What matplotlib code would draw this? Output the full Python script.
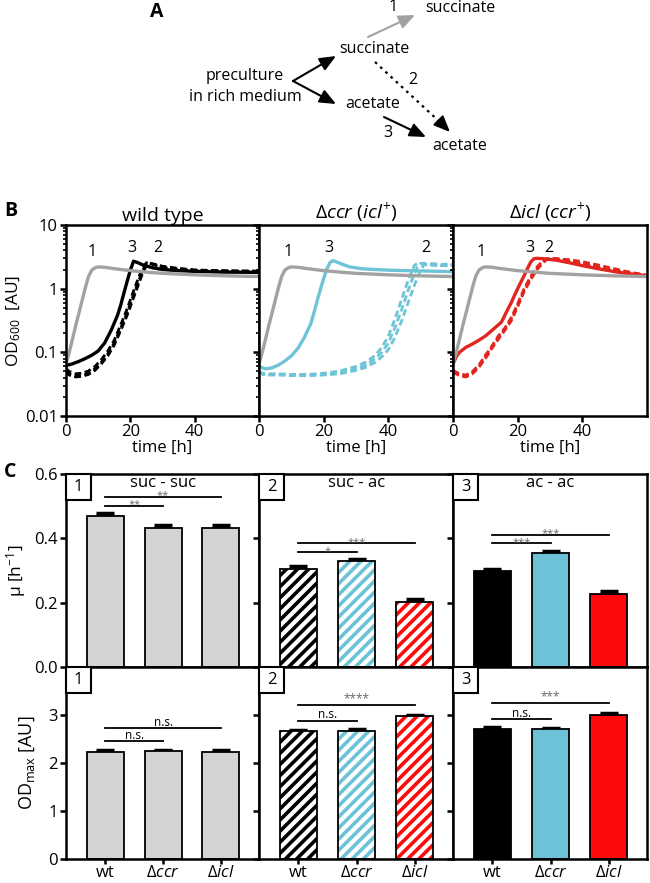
import matplotlib
matplotlib.use('Agg')
import matplotlib.pyplot as plt
from matplotlib.patches import Rectangle
from matplotlib.ticker import LogLocator, NullFormatter

plt.rcParams['font.family'] = ['Open Sans', 'DejaVu Sans']
plt.rcParams['mathtext.fontset'] = 'custom'
plt.rcParams['mathtext.rm'] = 'Open Sans'
plt.rcParams['mathtext.it'] = 'Open Sans:italic'
plt.rcParams['hatch.linewidth'] = 2.6

# ---- panel B: growth curves (time [h], OD600) ----
t_suc = [0, 1, 2, 3, 4, 5, 6, 7, 8, 9, 10, 12, 15, 20, 25, 30, 40, 50, 60]
od_suc_suc = [0.065, 0.1, 0.16, 0.26, 0.41, 0.65, 1.03, 1.55, 1.95, 2.12, 2.2, 2.17,
              2.06, 1.92, 1.82, 1.74, 1.65, 1.59, 1.55]

t_wt_ac = [0, 2, 4, 6, 8, 10, 12, 14, 16, 17, 18, 19, 20, 21, 22, 24, 27, 30, 35, 40, 50, 60]
od_wt_ac = [0.062, 0.066, 0.072, 0.08, 0.09, 0.105, 0.14, 0.22, 0.38, 0.55, 0.85, 1.3,
            1.95, 2.7, 2.6, 2.35, 2.12, 2.0, 1.92, 1.87, 1.82, 1.8]

t_wt_sa = [0, 1, 3, 5, 7, 9, 11, 13, 15, 17, 19, 21, 23, 24, 25, 26, 28, 30, 35, 40, 50, 60]
od_wt_sa_1 = [0.052, 0.046, 0.042, 0.043, 0.047, 0.055, 0.07, 0.095, 0.14, 0.24, 0.42, 0.8,
              1.5, 2.0, 2.45, 2.5, 2.35, 2.2, 2.05, 1.95, 1.9, 1.88]
od_wt_sa_2 = [0.056, 0.05, 0.046, 0.047, 0.051, 0.06, 0.077, 0.105, 0.155, 0.27, 0.48, 0.92,
              1.7, 2.2, 2.55, 2.5, 2.3, 2.15, 2.0, 1.92, 1.88, 1.86]
od_wt_sa_3 = [0.05, 0.044, 0.041, 0.042, 0.045, 0.052, 0.066, 0.088, 0.13, 0.22, 0.38, 0.72,
              1.35, 1.85, 2.3, 2.5, 2.4, 2.25, 2.08, 1.97, 1.9, 1.88]

t_ccr_ac = [0, 2, 4, 6, 8, 10, 12, 14, 16, 17, 18, 19, 20, 21, 22, 23, 25, 28, 32, 40, 50, 60]
od_ccr_ac = [0.06, 0.055, 0.057, 0.063, 0.073, 0.088, 0.115, 0.17, 0.28, 0.42, 0.65, 0.98,
             1.45, 2.05, 2.6, 2.75, 2.5, 2.2, 2.05, 1.95, 1.9, 1.85]

t_ccr_sa = [0, 1, 3, 6, 10, 15, 20, 25, 30, 33, 36, 38, 40, 42, 44, 46, 48, 49, 50, 51, 53, 56, 60]
od_ccr_sa_1 = [0.05, 0.046, 0.045, 0.045, 0.044, 0.044, 0.045, 0.048, 0.055, 0.063, 0.08, 0.1,
               0.14, 0.24, 0.45, 0.9, 1.7, 2.2, 2.5, 2.5, 2.4, 2.3, 2.35]
od_ccr_sa_2 = [0.05, 0.047, 0.046, 0.046, 0.045, 0.045, 0.047, 0.051, 0.06, 0.07, 0.09, 0.12,
               0.18, 0.33, 0.65, 1.3, 2.3, 2.5, 2.45, 2.4, 2.35, 2.3, 2.3]
od_ccr_sa_3 = [0.049, 0.045, 0.044, 0.044, 0.043, 0.043, 0.044, 0.046, 0.052, 0.058, 0.07, 0.085,
               0.11, 0.17, 0.3, 0.58, 1.1, 1.5, 1.95, 2.35, 2.5, 2.4, 2.45]

t_icl_ac = [0, 1, 2, 4, 6, 8, 10, 12, 14, 15, 16, 17, 18, 19, 20, 21, 22, 23, 24, 25, 26, 28,
            32, 36, 40, 45, 50, 55, 60]
od_icl_ac = [0.065, 0.085, 0.1, 0.12, 0.135, 0.155, 0.18, 0.22, 0.27, 0.3, 0.38, 0.48, 0.6,
             0.78, 1.0, 1.27, 1.6, 2.05, 2.6, 2.95, 3.0, 2.95, 2.8, 2.55, 2.3, 2.05, 1.85, 1.7, 1.6]

t_icl_sa = [0, 2, 4, 6, 8, 10, 11, 12, 14, 16, 18, 20, 22, 24, 26, 28, 29, 30, 33, 36, 40, 45,
            50, 55, 60]
od_icl_sa_1 = [0.05, 0.044, 0.042, 0.048, 0.06, 0.085, 0.1, 0.12, 0.17, 0.23, 0.33, 0.55, 0.95,
               1.45, 2.1, 2.7, 2.95, 3.0, 2.95, 2.8, 2.55, 2.25, 2.0, 1.78, 1.62]
od_icl_sa_2 = [0.052, 0.046, 0.044, 0.05, 0.063, 0.09, 0.105, 0.125, 0.18, 0.24, 0.35, 0.58, 1.0,
               1.55, 2.2, 2.8, 2.95, 2.95, 2.85, 2.7, 2.45, 2.15, 1.92, 1.75, 1.6]
od_icl_sa_3 = [0.049, 0.043, 0.041, 0.046, 0.058, 0.08, 0.095, 0.115, 0.16, 0.22, 0.31, 0.52, 0.9,
               1.38, 2.0, 2.6, 2.85, 2.95, 2.9, 2.85, 2.65, 2.35, 2.05, 1.8, 1.62]

strain_titles = ['wild type', 'Δ$\\mathit{ccr}$ ($\\mathit{icl}^{+}$)',
                 'Δ$\\mathit{icl}$ ($\\mathit{ccr}^{+}$)']
# curve-number labels (time, OD) for conditions 1, 3, 2
curve_label_pos = [[(8.1, 3.8), (20.6, 4.4), (28.4, 4.4)],
                   [(9.1, 3.8), (21.5, 4.4), (51.7, 4.4)],
                   [(8.8, 3.7), (23.7, 4.4), (29.6, 4.4)]]

# ---- panel C: growth rates and max OD ----
strains = ['wt', 'Δ$\\mathit{ccr}$', 'Δ$\\mathit{icl}$']
conditions = ['suc - suc', 'suc - ac', 'ac - ac']
mu = [[0.470, 0.432, 0.432], [0.305, 0.331, 0.203], [0.300, 0.355, 0.227]]
mu_err = [[0.010, 0.010, 0.010], [0.010, 0.004, 0.007], [0.005, 0.005, 0.010]]
odmax = [[2.22, 2.24, 2.23], [2.66, 2.67, 2.98], [2.70, 2.70, 3.01]]
odmax_err = [[0.06, 0.04, 0.05], [0.03, 0.04, 0.03], [0.04, 0.03, 0.03]]
mu_sig = [[(0, 1, 0.500, '**'), (0, 2, 0.528, '**')],
          [(0, 1, 0.356, '*'), (0, 2, 0.384, '***')],
          [(0, 1, 0.384, '***'), (0, 2, 0.410, '***')]]
odmax_sig = [[(0, 1, 2.45, 'n.s.'), (0, 2, 2.72, 'n.s.')],
             [(0, 1, 2.87, 'n.s.'), (0, 2, 3.20, '****')],
             [(0, 1, 2.91, 'n.s.'), (0, 2, 3.25, '***')]]

grey = '#a2a2a2'
curve_cols = ['black', '#6ec4d6', '#e2261f']
bar_cols = ['black', '#6cc2d6', '#ff0a0a']

W, H = 650, 883
fig = plt.figure(figsize=(6.5, 8.83), dpi=100)


def px_axes(l, t, r, b):
    return fig.add_axes([l / W, 1 - b / H, (r - l) / W, (b - t) / H])


def style(ax):
    for s in ax.spines.values():
        s.set_linewidth(1.8)
    ax.tick_params(which='major', direction='out', width=1.8, length=4, labelsize=12, pad=2)
    ax.tick_params(which='minor', direction='out', width=1.2, length=2.5)


# ---- panel A: scheme ----
ov = fig.add_axes([0, 0, 1, 1])
ov.set_xlim(0, W)
ov.set_ylim(H, 0)
ov.axis('off')
fs_a = 11.5
ov.text(460, 8, 'succinate', ha='center', va='center', fontsize=fs_a)
ov.text(374, 49, 'succinate', ha='center', va='center', fontsize=fs_a)
ov.text(245, 76, 'preculture', ha='center', va='center', fontsize=fs_a)
ov.text(245, 97, 'in rich medium', ha='center', va='center', fontsize=fs_a)
ov.text(373, 104, 'acetate', ha='center', va='center', fontsize=fs_a)
ov.text(460, 146, 'acetate', ha='center', va='center', fontsize=fs_a)
ov.text(393, 7, '1', ha='center', va='center', fontsize=fs_a)
ov.text(413, 80, '2', ha='center', va='center', fontsize=fs_a)
ov.text(388, 133, '3', ha='center', va='center', fontsize=fs_a)
head = '-|>,head_length=0.75,head_width=0.32'
arrows = [((368, 37), (415, 15), grey),
          ((293, 81), (336, 56), 'black'),
          ((293, 81), (336, 104), 'black'),
          ((384, 117), (426, 137), 'black')]
for p0, p1, c in arrows:
    ov.annotate('', xy=p1, xytext=p0,
                arrowprops=dict(arrowstyle=head, color=c, lw=1.5, mutation_scale=13,
                                shrinkA=0, shrinkB=0))
# dotted arrow (2): dotted shaft, solid head
ov.plot([375, 442], [62, 124], color='black', lw=1.6, ls=(0, (1.2, 2.0)))
ov.annotate('', xy=(450, 132), xytext=(440, 122),
            arrowprops=dict(arrowstyle=head, color='black', lw=1.5, mutation_scale=13,
                            shrinkA=0, shrinkB=0))
ov.text(157, 12, 'A', ha='center', va='center', fontsize=14, fontweight='bold')
ov.text(11, 211, 'B', ha='center', va='center', fontsize=14, fontweight='bold')
ov.text(10, 472, 'C', ha='center', va='center', fontsize=14, fontweight='bold')

# ---- panel B ----
cols_px = [(66, 259), (259, 453), (453, 647)]
curves = [(t_wt_ac, [od_wt_ac], t_wt_sa, [od_wt_sa_1, od_wt_sa_2, od_wt_sa_3]),
          (t_ccr_ac, [od_ccr_ac], t_ccr_sa, [od_ccr_sa_1, od_ccr_sa_2, od_ccr_sa_3]),
          (t_icl_ac, [od_icl_ac], t_icl_sa, [od_icl_sa_1, od_icl_sa_2, od_icl_sa_3])]
for k, (l, r) in enumerate(cols_px):
    ax = px_axes(l, 225, r, 416)
    t_ac, ods_ac, t_sa, ods_sa = curves[k]
    col = curve_cols[k]
    for od in ods_sa:
        ax.plot(t_sa, od, color=col, lw=2.0, ls=(0, (2.4, 1.3)))
    for od in ods_ac:
        ax.plot(t_ac, od, color=col, lw=2.4)
    ax.plot(t_suc, od_suc_suc, color=grey, lw=2.4)
    ax.set_yscale('log')
    ax.set_ylim(0.01, 10)
    ax.set_xlim(0, 60)
    ax.set_xticks([0, 20, 40])
    ax.yaxis.set_major_locator(LogLocator(base=10, numticks=10))
    ax.yaxis.set_minor_locator(LogLocator(base=10, subs=range(2, 10), numticks=10))
    ax.yaxis.set_minor_formatter(NullFormatter())
    style(ax)
    if k == 0:
        ax.set_yticks([0.01, 0.1, 1, 10])
        ax.set_yticklabels(['0.01', '0.1', '1', '10'])
        ax.set_ylabel('OD$_{600}$  [AU]', fontsize=12.5, labelpad=1)
    else:
        ax.set_yticklabels([])
    ax.set_xlabel('time [h]', fontsize=12, labelpad=0)
    ax.set_title(strain_titles[k], fontsize=14, pad=3)
    for lab, (tx, ty) in zip(['1', '3', '2'], curve_label_pos[k]):
        ax.text(tx, ty, lab, ha='center', va='center', fontsize=11.5)

# ---- panel C ----
x = [0, 1, 2]


def draw_bars(ax, j, vals, errs):
    if j == 0:
        ax.bar(x, vals, 0.64, color='#d3d3d3', edgecolor='black', lw=1.3, zorder=2)
    elif j == 1:
        for i in x:
            ax.bar(i, vals[i], 0.64, color='white', edgecolor=bar_cols[i], hatch='///',
                   lw=0, zorder=2)
        ax.bar(x, vals, 0.64, fill=False, edgecolor='black', lw=1.3, zorder=3)
    else:
        ax.bar(x, vals, 0.64, color=bar_cols, edgecolor='black', lw=1.3, zorder=2)
    ax.errorbar(x, vals, yerr=[[0, 0, 0], errs], fmt='none', ecolor='black',
                elinewidth=2.2, capsize=6.5, capthick=2.5, zorder=1)


def draw_sig(ax, sigs, fsize, off):
    for i, jj, y, lab in sigs:
        ax.plot([i, jj], [y, y], color='black', lw=1.3, zorder=4)
        c = 'black' if lab == 'n.s.' else '#666666'
        ax.annotate(lab, ((i + jj) / 2, y), xytext=(0, off), textcoords='offset points',
                    ha='center', va='baseline', color=c, fontsize=fsize, zorder=4)


def num_box(ax, n):
    bw, bh = 25 / 193, 26 / 193
    ax.add_patch(Rectangle((0, 1 - bh), bw, bh, transform=ax.transAxes, fc='white',
                           ec='black', lw=1.5, zorder=5, clip_on=False))
    ax.text(bw / 2, 1 - bh / 2, str(n), transform=ax.transAxes, ha='center', va='center',
            fontsize=12, zorder=6)


for j, (l, r) in enumerate(cols_px):
    ax = px_axes(l, 474, r, 667)
    draw_bars(ax, j, mu[j], mu_err[j])
    draw_sig(ax, mu_sig[j], 8, -1.0)
    ax.set_xlim(-0.68, 2.66)
    ax.set_ylim(0, 0.6)
    ax.set_yticks([0, 0.2, 0.4, 0.6])
    ax.set_xticks(x)
    ax.set_xticklabels([])
    style(ax)
    if j == 0:
        ax.set_yticklabels(['0.0', '0.2', '0.4', '0.6'])
        ax.set_ylabel('μ [h$^{-1}$]', fontsize=12.5, labelpad=4)
    else:
        ax.set_yticklabels([])
    ax.text(1, 0.955, conditions[j], transform=ax.get_xaxis_transform(), ha='center',
            va='center', fontsize=12)
    num_box(ax, j + 1)

    ax2 = px_axes(l, 667, r, 859)
    draw_bars(ax2, j, odmax[j], odmax_err[j])
    draw_sig(ax2, odmax_sig[j], 8.5, 2.0)
    ax2.set_xlim(-0.68, 2.66)
    ax2.set_ylim(0, 4)
    ax2.set_yticks([0, 1, 2, 3])
    ax2.set_xticks(x)
    ax2.set_xticklabels(strains)
    style(ax2)
    ax2.tick_params(axis='x', labelsize=12, pad=0.5, length=3.5)
    if j == 0:
        ax2.set_ylabel('OD$_{\\mathrm{max}}$ [AU]', fontsize=13, labelpad=8)
    else:
        ax2.set_yticklabels([])
    num_box(ax2, j + 1)

fig.savefig('out.png', dpi=100)
